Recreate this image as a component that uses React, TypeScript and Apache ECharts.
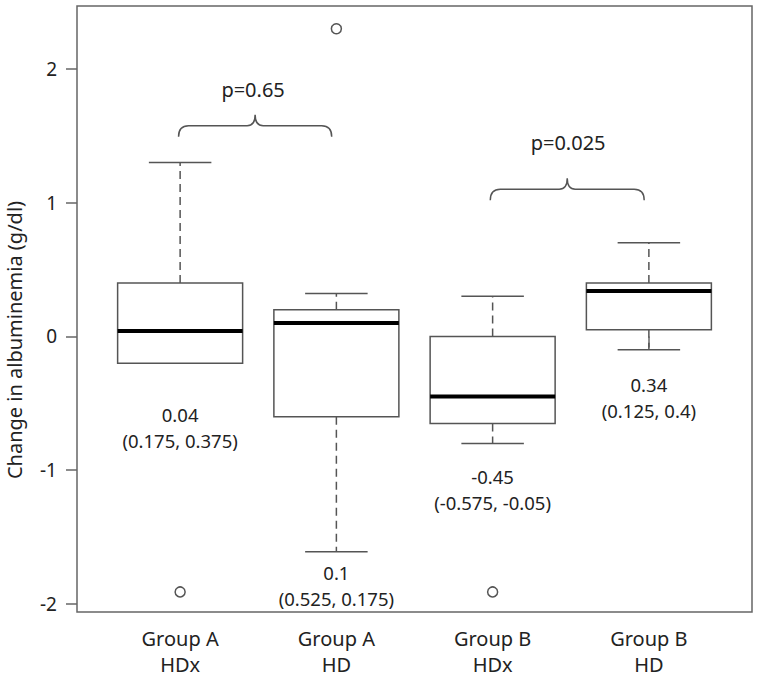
import React, { useEffect, useRef } from 'react';
import * as echarts from 'echarts';

// ---- data ----
const categories = ['Group A\nHDx', 'Group A\nHD', 'Group B\nHDx', 'Group B\nHD'];
const groupX = [1, 2, 3, 4];
const whiskerLow = [-0.2, -1.61, -0.8, -0.1];
const q1 = [-0.2, -0.6, -0.65, 0.05];
const medians = [0.04, 0.1, -0.45, 0.34];
const q3 = [0.4, 0.2, 0.0, 0.4];
const whiskerHigh = [1.3, 0.32, 0.3, 0.7];
const outlierX = [1, 2, 3];
const outlierY = [-1.91, 2.3, -1.91];
const medianLabels = ['0.04', '0.1', '-0.45', '0.34'];
const iqrLabels = ['(0.175, 0.375)', '(0.525, 0.175)', '(-0.575, -0.05)', '(0.125, 0.4)'];
const labelY = [-0.684, -1.865, -1.148, -0.456];
const braceFrom = [0.99, 2.985];
const braceTo = [1.97, 3.97];
const braceY = [1.574, 1.1];
const pLabels = ['p=0.65', 'p=0.025'];
const pLabelX = [1.467, 3.483];
const pLabelY = [1.843, 1.447];
const yTicks = [-2, -1, 0, 1, 2];
const yTitle = 'Change in albuminemia (g/dl)';

const FONT = 'Noto Sans';
const INK = '#222';
const LINE = '#555';

export default function App() {
  const ref = useRef<HTMLDivElement>(null);
  useEffect(() => {
    if (!ref.current) return;
    const chart = echarts.init(ref.current, undefined, { renderer: 'svg' });

    const boxData = groupX.map((x, i) => [x, whiskerLow[i], q1[i], medians[i], q3[i], whiskerHigh[i]]);
    const outlierData = outlierX.map((x, i) => [x, outlierY[i]]);
    const labelData = groupX.map((x, i) => [x, labelY[i], i]);
    const braceData = braceFrom.map((f, i) => [f, braceTo[i], braceY[i], pLabelX[i], pLabelY[i], i]);

    const option: any = {
      animation: false,
      grid: {
        left: 77,
        right: 8,
        top: 6,
        bottom: 65,
        show: true,
        borderColor: '#666',
        borderWidth: 1.5,
        backgroundColor: 'transparent',
      },
      graphic: [
        {
          type: 'text',
          x: 14,
          y: 340,
          rotation: Math.PI / 2,
          style: {
            text: yTitle,
            align: 'center',
            verticalAlign: 'middle',
            fontSize: 20,
            fontFamily: FONT,
            fill: INK,
          },
        },
      ],
      xAxis: {
        type: 'value',
        min: 0.34,
        max: 4.66,
        axisLine: { show: false },
        splitLine: { show: false },
        axisTick: {
          show: true,
          customValues: groupX,
          length: 11,
          lineStyle: { color: '#666', width: 1.5 },
        },
        axisLabel: {
          customValues: groupX,
          formatter: (v: number) => categories[groupX.indexOf(Math.round(v))] ?? '',
          fontSize: 20,
          lineHeight: 26,
          margin: 13,
          color: INK,
          fontFamily: FONT,
        },
      },
      yAxis: {
        type: 'value',
        min: -2.06,
        max: 2.47,
        axisLine: { show: false },
        splitLine: { show: false },
        axisTick: {
          show: true,
          customValues: yTicks,
          length: 11,
          lineStyle: { color: '#666', width: 1.5 },
        },
        axisLabel: {
          customValues: yTicks,
          formatter: (v: number) => String(v),
          fontSize: 19,
          margin: 20,
          color: INK,
          fontFamily: FONT,
        },
      },
      series: [
        {
          type: 'custom',
          name: 'boxes',
          data: boxData,
          encode: { x: 0, y: [1, 2, 3, 4, 5] },
          renderItem: (params: any, api: any) => {
            const x = api.value(0);
            const pLow = api.coord([x, api.value(1)]);
            const pQ1 = api.coord([x, api.value(2)]);
            const pMed = api.coord([x, api.value(3)]);
            const pQ3 = api.coord([x, api.value(4)]);
            const pHigh = api.coord([x, api.value(5)]);
            const w = api.size([0.8, 0])[0];
            const cx = pMed[0];
            const half = w / 2;
            const cap = w / 4;
            const dashed = { stroke: LINE, lineWidth: 1.5, lineDash: [8, 5], fill: 'none' };
            const solid = { stroke: LINE, lineWidth: 1.5, fill: 'none' };
            return {
              type: 'group',
              children: [
                { type: 'line', shape: { x1: cx, y1: pQ3[1], x2: cx, y2: pHigh[1] }, style: dashed },
                { type: 'line', shape: { x1: cx, y1: pQ1[1], x2: cx, y2: pLow[1] }, style: dashed },
                { type: 'line', shape: { x1: cx - cap, y1: pHigh[1], x2: cx + cap, y2: pHigh[1] }, style: solid },
                { type: 'line', shape: { x1: cx - cap, y1: pLow[1], x2: cx + cap, y2: pLow[1] }, style: solid },
                {
                  type: 'rect',
                  shape: { x: cx - half, y: pQ3[1], width: w, height: pQ1[1] - pQ3[1] },
                  style: { fill: '#fff', stroke: LINE, lineWidth: 1.5 },
                },
                {
                  type: 'line',
                  shape: { x1: cx - half, y1: pMed[1], x2: cx + half, y2: pMed[1] },
                  style: { stroke: '#000', lineWidth: 4 },
                },
              ],
            };
          },
          z: 2,
        },
        {
          type: 'scatter',
          name: 'outliers',
          data: outlierData,
          symbol: 'circle',
          symbolSize: 10,
          itemStyle: { color: '#fff', borderColor: LINE, borderWidth: 1.5, opacity: 1 },
          z: 3,
        },
        {
          type: 'custom',
          name: 'labels',
          data: labelData,
          encode: { x: 0, y: 1 },
          renderItem: (params: any, api: any) => {
            const p = api.coord([api.value(0), api.value(1)]);
            const i = api.value(2);
            return {
              type: 'text',
              style: {
                text: medianLabels[i] + '\n' + iqrLabels[i],
                x: p[0],
                y: p[1],
                align: 'center',
                verticalAlign: 'middle',
                fontSize: 18.5,
                lineHeight: 26,
                fontFamily: FONT,
                fill: INK,
              },
            };
          },
          z: 4,
        },
        {
          type: 'custom',
          name: 'braces',
          data: braceData,
          encode: { x: [0, 1, 3], y: [2, 4] },
          renderItem: (params: any, api: any) => {
            const a = api.coord([api.value(0), api.value(2)]);
            const b = api.coord([api.value(1), api.value(2)]);
            const t = api.coord([api.value(3), api.value(4)]);
            const i = api.value(5);
            const y = a[1];
            const x1 = a[0];
            const x2 = b[0];
            const xm = (x1 + x2) / 2;
            const d = 11;
            const r = 10;
            const pathData =
              `M${x1},${y + d} Q${x1},${y} ${x1 + r},${y} L${xm - 8},${y} Q${xm},${y} ${xm},${y - d} ` +
              `Q${xm},${y} ${xm + 8},${y} L${x2 - r},${y} Q${x2},${y} ${x2},${y + d}`;
            return {
              type: 'group',
              children: [
                {
                  type: 'path',
                  shape: { pathData },
                  style: { fill: 'none', stroke: LINE, lineWidth: 1.5 },
                },
                {
                  type: 'text',
                  style: {
                    text: pLabels[i],
                    x: t[0],
                    y: t[1],
                    align: 'center',
                    verticalAlign: 'middle',
                    fontSize: 20,
                    fontFamily: FONT,
                    fill: INK,
                  },
                },
              ],
            };
          },
          z: 4,
        },
      ],
    };

    chart.setOption(option);
    return () => chart.dispose();
  }, []);

  return (
    <div
      ref={ref}
      style={{ position: 'absolute', left: 0, top: 0, width: 760, height: 677, background: '#fff' }}
    />
  );
}
